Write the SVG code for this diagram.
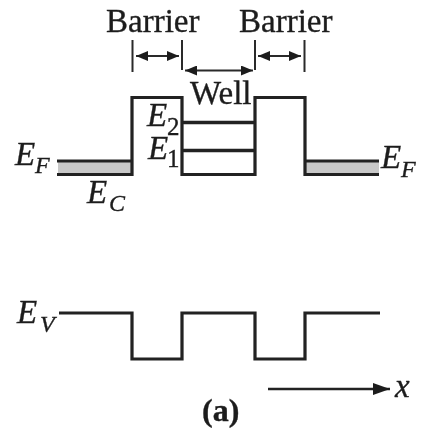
<svg xmlns="http://www.w3.org/2000/svg" width="423" height="432" viewBox="0 0 423 432">
<style>
text{font-family:"Liberation Serif","Times New Roman",serif;fill:#1d1d1d;stroke:#1d1d1d;stroke-width:.35}
.t{font-size:33px}
.e{font-size:33px;font-style:italic}
.s{font-size:24px;font-style:italic}
.n{font-size:25px}
.l{fill:none;stroke:#222;stroke-width:3.2}
.d{fill:none;stroke:#2c2c2c;stroke-width:2}
</style>
<defs>
<marker id="a" viewBox="0 0 12 10" refX="12" refY="5" markerWidth="12" markerHeight="10" markerUnits="userSpaceOnUse" orient="auto-start-reverse"><path d="M0 0L12 5L0 10Z" fill="#1d1d1d"/></marker>
<marker id="b" viewBox="0 0 17 12" refX="17" refY="6" markerWidth="17" markerHeight="12" markerUnits="userSpaceOnUse" orient="auto"><path d="M0 0L17 6L0 12Z" fill="#1d1d1d"/></marker>
<filter id="soft" x="0" y="0" width="1" height="1"><feGaussianBlur stdDeviation="0.55"/></filter>
</defs>
<rect width="423" height="432" fill="#fff"/>
<g filter="url(#soft)">
<g id="fermi-fill">
<rect x="58" y="161" width="74" height="13" fill="#c8c8c8"/>
<rect x="305" y="161" width="74" height="13" fill="#c8c8c8"/>
</g>
<g id="connectors">
<path class="l" d="M57 174.500H132V97.500H182V174.500H255V97.500H305V174.500H379"/>
<path class="l" d="M57 161H132M305 161H379"/>
<path class="l" style="stroke-width:3.6" d="M182 122.500H255M182 150.500H255"/>
<path class="l" d="M59 313H132V359H182V313H255V359H305V313H380"/>
<path class="d" d="M132.500 40V72M182 40V70M255 40V70M304.500 40V72"/>
<path class="d" d="M136 56H179" marker-start="url(#a)" marker-end="url(#a)"/>
<path class="d" d="M258 56H301" marker-start="url(#a)" marker-end="url(#a)"/>
<path class="d" d="M185 70.500H253" marker-start="url(#a)" marker-end="url(#a)"/>
<path class="l" style="stroke-width:2.4" d="M268 389H390" marker-end="url(#b)"/>
</g>
<g id="labels">
<text class="t" x="106" y="32">Barrier</text>
<text class="t" x="239" y="32">Barrier</text>
<text class="t" x="190" y="104">Well</text>
<text class="e" x="147" y="126">E</text><text class="n" x="167" y="135">2</text>
<text class="e" x="148" y="159">E</text><text class="n" x="167" y="167">1</text>
<text class="e" x="15" y="165">E</text><text class="s" x="35" y="173">F</text>
<text class="e" x="87" y="203">E</text><text class="s" x="109" y="211">C</text>
<text class="e" x="381" y="168">E</text><text class="s" x="401" y="177">F</text>
<text class="e" x="17" y="323">E</text><text class="s" x="40" y="332">V</text>
<text class="e" x="395" y="397">x</text>
<text x="202" y="421" font-size="32" font-weight="bold">(a)</text>
</g>
</g>
</svg>
